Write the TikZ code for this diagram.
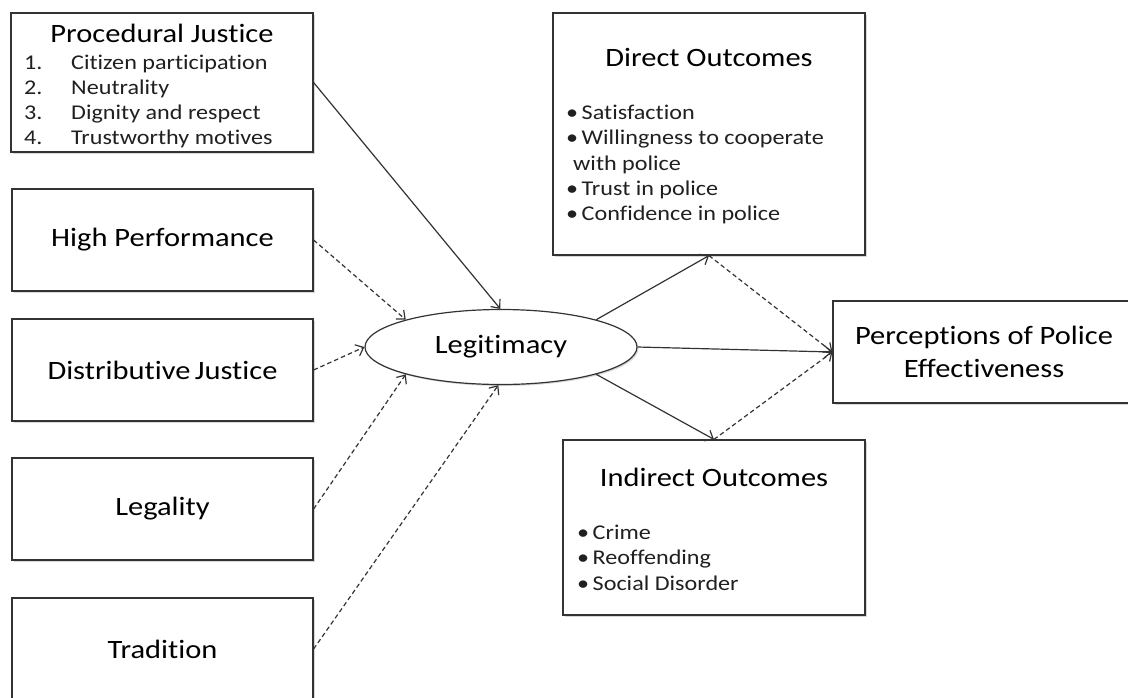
\documentclass[tikz,border=0pt]{standalone}
\usepackage{fontspec}
\setmainfont[FakeStretch=1.15,Ligatures=NoCommon]{Carlito}
\usetikzlibrary{arrows.meta,shapes.geometric,shadows}
\definecolor{linec}{HTML}{333333}
\definecolor{textc}{HTML}{202020}
\newcommand{\blt}{•\hspace{3.5pt}}
\begin{document}
\begin{tikzpicture}[x=1pt,y=-1pt,
  box/.style={draw=linec, line width=1.2pt, fill=white, rectangle, inner sep=0pt,
    drop shadow={shadow xshift=1.5pt,shadow yshift=-1.5pt,opacity=0.3}},
  ttl/.style={font=\fontsize{26.5}{33}\selectfont, text=black},
  lbl/.style={inner sep=0pt, ttl},
  itm/.style={font=\fontsize{21}{25}\selectfont, text=textc, inner sep=0pt, anchor=base west},
  solidarr/.style={draw=linec, line width=1.2pt, -{Straight Barb[length=7pt,width=12pt]}},
  dasharr/.style={solidarr, dash pattern=on 4.5pt off 3pt},
]
\useasboundingbox (0,0) rectangle (1128,697);
\clip (0,0) rectangle (1128,697);
\fill[white] (0,0) rectangle (1128,697);

% left boxes
\node[box, minimum width=302pt, minimum height=139pt] (pj) at (162,82.5) {};
\node[lbl] (pjt) at (162,33) {Procedural Justice};
\node[itm] (pjn1) at (24,69) {1.};
\node[itm] (pjn2) at (24,94) {2.};
\node[itm] (pjn3) at (24,119) {3.};
\node[itm] (pjn4) at (24,144) {4.};
\node[itm] (pji1) at (71,69) {Citizen participation};
\node[itm] (pji2) at (71,94) {Neutrality};
\node[itm] (pji3) at (71,119) {Dignity and respect};
\node[itm] (pji4) at (71,144) {Trustworthy motives};

\node[box, ttl, minimum width=301pt, minimum height=102pt] (hp) at (162.5,240) {High Performance};
\node[box, ttl, minimum width=301pt, minimum height=102pt] (dj) at (162.5,370) {Distributive\,Justice};
\node[box, ttl, minimum width=301pt, minimum height=102pt] (lg) at (162.5,509) {Legality};
\node[box, ttl, minimum width=301pt, minimum height=102pt] (tr) at (162.5,649) {Tradition};

% ellipse
\node[ellipse, draw=linec, line width=1.2pt, fill=white, inner sep=0pt, ttl,
  minimum width=272pt, minimum height=75pt,
  drop shadow={shadow xshift=1.5pt,shadow yshift=-1.5pt,opacity=0.3}] (lt) at (501,347) {Legitimacy};

% right boxes
\node[box, minimum width=312pt, minimum height=242pt] (do) at (709,134) {};
\node[lbl] (dot) at (709,57) {Direct Outcomes};
\node[itm] (do1) at (566,119) {\blt Satisfaction};
\node[itm] (do2) at (566,144) {\blt Willingness to cooperate};
\node[itm] (do3) at (573,170) {with police};
\node[itm] (do4) at (566,195) {\blt Trust in police};
\node[itm] (do5) at (566,220) {\blt Confidence in police};

\node[box, minimum width=302pt, minimum height=175pt] (io) at (714,527.5) {};
\node[lbl] (iot) at (714,477) {Indirect Outcomes};
\node[itm] (io1) at (577,539) {\blt Crime};
\node[itm] (io2) at (577,564) {\blt Reoffending};
\node[itm] (io3) at (577,590) {\blt Social Disorder};

\node[box, ttl, align=center, minimum width=302pt, minimum height=102pt] (pe) at (984,352) {Perceptions of Police\\Effectiveness};

% connectors
\draw[solidarr] (pj.east) -- (lt.91);
\draw[dasharr] (hp.east) -- (lt.164);
\draw[dasharr] (dj.east) -- (lt.180);
\draw[dasharr] (lg.east) -- (lt.196);
\draw[dasharr] (tr.east) -- (lt.266);
\draw[solidarr] (lt.16) -- (do.south);
\draw[solidarr] (lt.0) -- (pe.west);
\draw[solidarr] (lt.-16) -- (io.north);
\draw[dasharr] (do.south) -- (pe.west);
\draw[dasharr] (io.north) -- (pe.west);
\end{tikzpicture}
\end{document}
